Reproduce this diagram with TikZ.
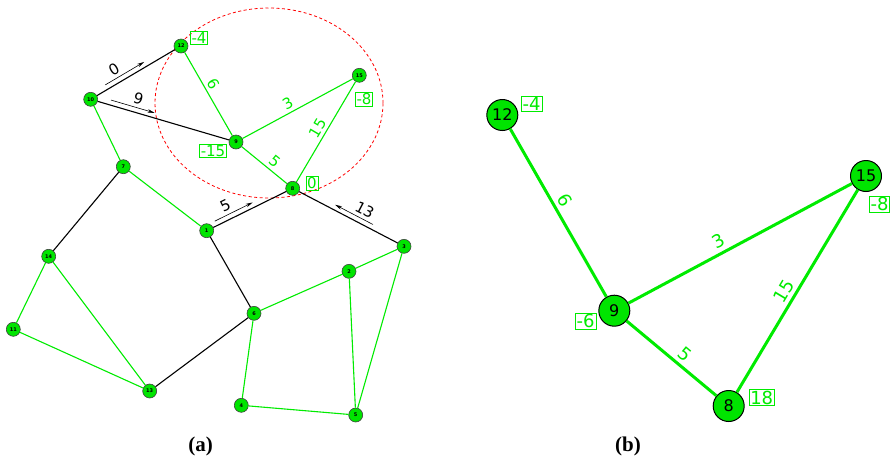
\documentclass[tikz,border=0pt]{standalone}
\usepackage{fontspec}
\setmainfont{DejaVu Sans}
\newfontfamily\capfont{Liberation Serif}
\usetikzlibrary{arrows.meta,calc}
\definecolor{gr}{RGB}{0,235,0}
\definecolor{nodefill}{RGB}{0,228,0}
\begin{document}
\begin{tikzpicture}[x=1pt,y=-1pt,
  sn/.style={circle,draw=black!75,line width=0.6pt,fill=nodefill,minimum size=14pt,inner sep=0pt,font=\fontsize{5}{5}\selectfont\bfseries},
  bn/.style={circle,draw=black,line width=1pt,fill=nodefill,minimum size=31pt,inner sep=0pt,font=\fontsize{16}{16}\selectfont},
  ge/.style={draw=gr,line width=1.1pt},
  be/.style={draw=black,line width=1.1pt},
  gbe/.style={draw=gr,line width=3pt},
  boxa/.style={draw=gr,text=gr,line width=0.7pt,inner sep=1.2pt,font=\fontsize{15}{15}\selectfont},
  boxb/.style={draw=gr,text=gr,line width=0.7pt,inner sep=1.2pt,font=\fontsize{18}{18}\selectfont},
  ela/.style={text=gr,font=\fontsize{15}{15}\selectfont,sloped,above,inner sep=3pt},
  elb/.style={text=gr,font=\fontsize{18}{18}\selectfont,sloped,above,inner sep=3.5pt},
  bla/.style={text=black,font=\fontsize{15}{15}\selectfont,sloped,above=7pt,inner sep=1pt},
  flow/.style={draw=black,line width=0.6pt,-{Stealth[length=7pt,width=3.5pt]}},
  captxt/.style={font=\capfont\bfseries\fontsize{21}{21}\selectfont}
]
\useasboundingbox (0,0) rectangle (892,464);

% red dashed ellipse
\draw[red,line width=0.8pt,dash pattern=on 3pt off 2.5pt] (269,103) ellipse [x radius=114pt, y radius=95pt];

% ---------- (a) nodes ----------
\node[sn] (n10) at (90.7,99.3) {10};
\node[sn] (n12) at (181,46) {12};
\node[sn] (n15) at (359.3,75.3) {15};
\node[sn] (n9) at (236,142) {9};
\node[sn] (n7) at (123.3,166.7) {7};
\node[sn] (n8) at (292.7,188.3) {8};
\node[sn] (n1) at (206.7,230.7) {1};
\node[sn] (n3) at (404,246.3) {3};
\node[sn] (n2) at (349,271.3) {2};
\node[sn] (n14) at (48.7,256.3) {14};
\node[sn] (n6) at (254,313.3) {6};
\node[sn] (n11) at (13.3,329.3) {11};
\node[sn] (n13) at (149.7,391) {13};
\node[sn] (n4) at (241.3,405.3) {4};
\node[sn] (n5) at (355.7,415) {5};

% (a) green edges
\draw[ge] (n10) -- (n7);
\draw[ge] (n7) -- (n1);
\draw[ge] (n12) -- node[ela,pos=0.43] {6} (n9);
\draw[ge] (n9) -- node[ela,pos=0.45] {3} (n15);
\draw[ge] (n9) -- node[ela,pos=0.6] {5} (n8);
\draw[ge] (n8) -- node[ela,pos=0.49] {15} (n15);
\draw[ge] (n14) -- (n11);
\draw[ge] (n14) -- (n13);
\draw[ge] (n11) -- (n13);
\draw[ge] (n6) -- (n2);
\draw[ge] (n2) -- (n3);
\draw[ge] (n2) -- (n5);
\draw[ge] (n3) -- (n5);
\draw[ge] (n6) -- (n4);
\draw[ge] (n4) -- (n5);

% (a) black edges
\draw[be] (n10) -- node[bla,pos=0.31] {0} (n12);
\draw[be] (n10) -- node[bla,pos=0.28] {9} (n9);
\draw[be] (n14) -- (n7);
\draw[be] (n1) -- node[bla,pos=0.25] {5} (n8);
\draw[be] (n8) -- node[bla,pos=0.6] {13} (n3);
\draw[be] (n1) -- (n6);
\draw[be] (n6) -- (n13);

% flow arrows
\draw[flow] ($(n10)!0.19!(n12)!5pt!90:(n12)$) -- ($(n10)!0.62!(n12)!5pt!90:(n12)$);
\draw[flow] ($(n10)!0.13!(n9)!5pt!90:(n9)$) -- ($(n10)!0.43!(n9)!5pt!90:(n9)$);
\draw[flow] ($(n1)!0.12!(n8)!5pt!90:(n8)$) -- ($(n1)!0.56!(n8)!5pt!90:(n8)$);
\draw[flow] ($(n8)!0.70!(n3)!5pt!90:(n3)$) -- ($(n8)!0.36!(n3)!5pt!90:(n3)$);

% (a) value boxes
\node[boxa] (v12) at (199,38) {-4};
\node[boxa] (v9) at (213,151) {-15};
\node[boxa] (v15) at (364,99) {-8};
\node[boxa] (v8) at (312,183) {0};

% ---------- (b) ----------
\node[bn] (b12) at (502.3,115) {12};
\node[bn] (b15) at (866,176) {15};
\node[bn] (b9) at (614.3,310.7) {9};
\node[bn] (b8) at (728.7,406) {8};

\draw[gbe] (b12) -- node[elb,pos=0.46] {6} (b9);
\draw[gbe] (b9) -- node[elb,pos=0.43] {3} (b15);
\draw[gbe] (b8) -- node[elb,pos=0.47] {15} (b15);
\draw[gbe] (b9) -- node[elb,pos=0.57] {5} (b8);

\node[boxb] (w12) at (531.7,104) {-4};
\node[boxb] (w15) at (879.5,204) {-8};
\node[boxb] (w9) at (585.7,321) {-6};
\node[boxb] (w8) at (761.7,397.7) {18};

% captions
\node[captxt] (capa) at (200.7,446) {(a)};
\node[captxt] (capb) at (628,446) {(b)};
\end{tikzpicture}
\end{document}
